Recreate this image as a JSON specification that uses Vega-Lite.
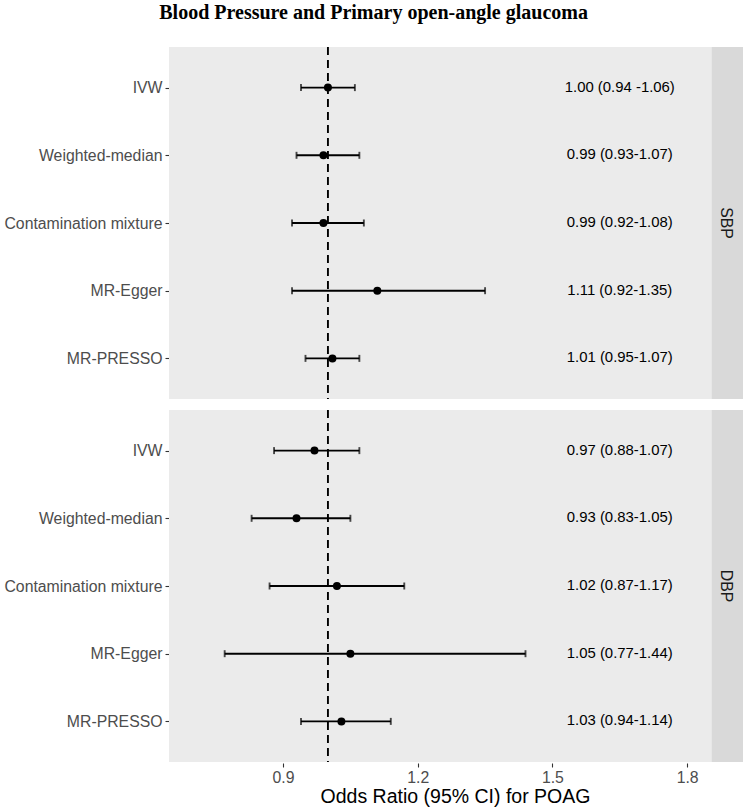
{
  "$schema": "https://vega.github.io/schema/vega-lite/v6.json",
  "title": {"text": "Blood Pressure and Primary open-angle glaucoma", "font": "Liberation Serif", "fontSize": 20, "fontWeight": "bold", "color": "#000000", "anchor": "middle", "frame": "bounds", "offset": 23},
  "padding": {"left": 3, "top": 3, "right": 2, "bottom": 2},
  "data": {"values": [
    {"exposure": "SBP", "method": "IVW", "est": 1.00, "lo": 0.94, "hi": 1.06, "label": "1.00 (0.94 -1.06)"},
    {"exposure": "SBP", "method": "Weighted-median", "est": 0.99, "lo": 0.93, "hi": 1.07, "label": "0.99 (0.93-1.07)"},
    {"exposure": "SBP", "method": "Contamination mixture", "est": 0.99, "lo": 0.92, "hi": 1.08, "label": "0.99 (0.92-1.08)"},
    {"exposure": "SBP", "method": "MR-Egger", "est": 1.11, "lo": 0.92, "hi": 1.35, "label": "1.11 (0.92-1.35)"},
    {"exposure": "SBP", "method": "MR-PRESSO", "est": 1.01, "lo": 0.95, "hi": 1.07, "label": "1.01 (0.95-1.07)"},
    {"exposure": "DBP", "method": "IVW", "est": 0.97, "lo": 0.88, "hi": 1.07, "label": "0.97 (0.88-1.07)"},
    {"exposure": "DBP", "method": "Weighted-median", "est": 0.93, "lo": 0.83, "hi": 1.05, "label": "0.93 (0.83-1.05)"},
    {"exposure": "DBP", "method": "Contamination mixture", "est": 1.02, "lo": 0.87, "hi": 1.17, "label": "1.02 (0.87-1.17)"},
    {"exposure": "DBP", "method": "MR-Egger", "est": 1.05, "lo": 0.77, "hi": 1.44, "label": "1.05 (0.77-1.44)"},
    {"exposure": "DBP", "method": "MR-PRESSO", "est": 1.03, "lo": 0.94, "hi": 1.14, "label": "1.03 (0.94-1.14)"}
  ]},
  "facet": {"row": {"field": "exposure", "type": "nominal", "sort": ["SBP", "DBP"], "header": null}},
  "spacing": 9,
  "resolve": {"scale": {"y": "shared"}},
  "spec": {
    "width": 572,
    "height": 352,
    "encoding": {
      "y": {"field": "method", "type": "nominal", "sort": ["IVW", "Weighted-median", "Contamination mixture", "MR-Egger", "MR-PRESSO"], "scale": {"type": "point", "padding": 0.6}, "axis": {"title": null}}
    },
    "layer": [
      {
        "transform": [{"filter": "datum.method === 'IVW'"}],
        "mark": {"type": "rect", "color": "#D9D9D9"},
        "encoding": {
          "y": null,
          "x": {"datum": 1.855, "type": "quantitative", "scale": {"domain": [0.646, 1.92], "nice": false, "zero": false}, "axis": {"values": [0.9, 1.2, 1.5, 1.8], "format": ".1f", "title": "Odds Ratio (95% CI) for POAG"}},
          "x2": {"datum": 1.925}
        }
      },
      {
        "transform": [{"filter": "datum.method === 'IVW'"}],
        "mark": {"type": "text", "angle": 90, "fontSize": 15.8, "color": "#1A1A1A", "align": "center", "baseline": "middle"},
        "encoding": {
          "y": null,
          "x": {"datum": 1.8875, "type": "quantitative"},
          "text": {"field": "exposure"}
        }
      },
      {
        "transform": [{"filter": "datum.method === 'IVW'"}],
        "mark": {"type": "rule", "color": "#000000", "strokeWidth": 1.9, "strokeDash": [8, 5]},
        "encoding": {
          "y": null,
          "x": {"datum": 1, "type": "quantitative"}
        }
      },
      {
        "mark": {"type": "rule", "color": "#000000", "strokeWidth": 1.9},
        "encoding": {
          "x": {"field": "lo", "type": "quantitative"},
          "x2": {"field": "hi"}
        }
      },
      {
        "mark": {"type": "tick", "color": "#000000", "thickness": 1.9, "size": 7, "orient": "vertical"},
        "encoding": {
          "x": {"field": "lo", "type": "quantitative"}
        }
      },
      {
        "mark": {"type": "tick", "color": "#000000", "thickness": 1.9, "size": 7, "orient": "vertical"},
        "encoding": {
          "x": {"field": "hi", "type": "quantitative"}
        }
      },
      {
        "mark": {"type": "point", "filled": true, "color": "#000000", "opacity": 1, "size": 64},
        "encoding": {
          "x": {"field": "est", "type": "quantitative"}
        }
      },
      {
        "mark": {"type": "text", "fontSize": 14.9, "color": "#000000", "align": "center", "baseline": "middle"},
        "encoding": {
          "x": {"datum": 1.65, "type": "quantitative"},
          "text": {"field": "label"}
        }
      }
    ]
  },
  "config": {
    "font": "Liberation Sans",
    "view": {"fill": "#EBEBEB", "stroke": null},
    "axis": {
      "grid": false,
      "domain": false,
      "tickSize": 4,
      "tickColor": "#333333",
      "tickWidth": 1.1,
      "labelColor": "#4D4D4D",
      "labelFontSize": 15.8,
      "labelFont": "Liberation Sans",
      "labelPadding": 3,
      "titleFont": "Liberation Sans",
      "titleFontSize": 19.5,
      "titleFontWeight": "normal",
      "titleColor": "#000000",
      "titlePadding": 3
    }
  }
}
